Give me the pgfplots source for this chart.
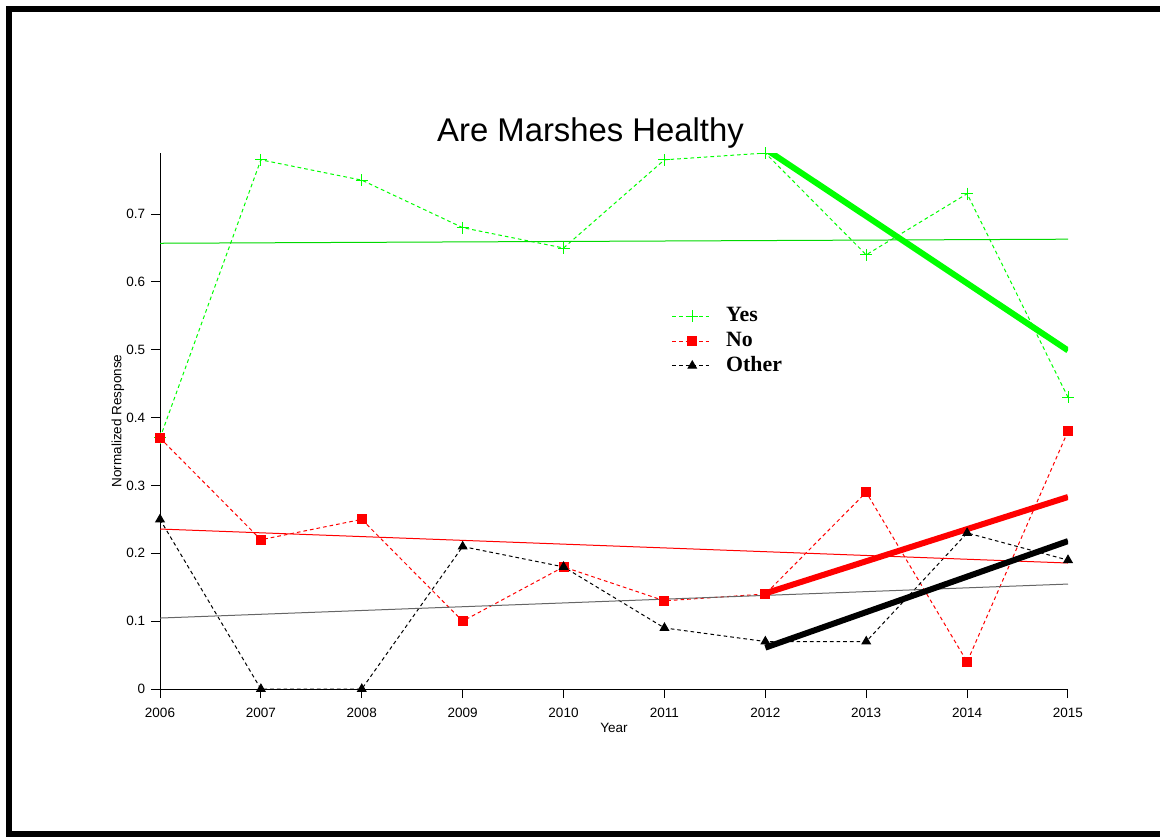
\documentclass[border=0pt]{standalone}
\usepackage{fontspec}
\setmainfont{Liberation Sans}
\newfontfamily\seriffont{Liberation Serif}
\usepackage{pgfplots}
\pgfplotsset{compat=1.18}
\definecolor{pgreen}{RGB}{0,255,0}
\definecolor{pred}{RGB}{255,0,0}
\begin{document}
\begin{tikzpicture}
\useasboundingbox (0,0) rectangle (696pt,-501.6pt);
\begin{scope}
\clip (0,0) rectangle (696pt,-501.6pt);
\draw[line width=3.6pt] (5.4pt,-5.4pt) rectangle (720pt,-500.1pt);
\end{scope}
\node[font=\fontsize{19.7}{23}\selectfont, inner sep=0pt] at (354.3pt,-80pt) {Are Marshes Healthy};
\begin{axis}[
  at={(96pt,-413.4pt)}, anchor=south west,
  scale only axis, width=544.8pt, height=321.6pt,
  xmin=2006, xmax=2015, ymin=0, ymax=0.79,
  axis lines=left, axis line style={-, line width=0.6pt},
  tick align=outside, major tick length=5.4pt,
  tick style={line width=0.6pt, black},
  xtick={2006,...,2015},
  ytick={0,0.1,0.2,0.3,0.4,0.5,0.6,0.7},
  /pgf/number format/assume math mode=true,
  /pgf/number format/1000 sep={},
  tick label style={font=\fontsize{8.1}{9.7}\selectfont},
  xticklabel style={yshift=-2.4pt},
  xlabel={Year}, ylabel={Normalized Response},
  label style={font=\fontsize{8.1}{9.7}\selectfont},
  xlabel style={at={(axis description cs:0.5,0)}, anchor=center, yshift=-23.4pt},
  ylabel style={at={(axis description cs:0,0.5)}, anchor=center, yshift=25.2pt},
  legend style={draw=none, fill=none, at={(axis description cs:0.5639,0.649)}, anchor=west, xshift=-3.3pt,
    font=\seriffont\bfseries\fontsize{13.1}{15}\selectfont,
    nodes={inner xsep=4.5pt, inner ysep=1pt, text height=9.6pt, text depth=3.2pt},
    row sep=0pt, column sep=3.6pt},
  legend cell align=left,
  legend image code/.code={\draw[mark repeat=2,mark phase=2,#1] plot coordinates {(0cm,0cm) (0.42cm,0cm) (0.84cm,0cm)};},
]
\addplot[pgreen, line width=0.6pt, dash pattern=on 2.2pt off 1.8pt, mark=+, mark size=3.6pt, mark options={solid}]
  coordinates {(2006,0.37)(2007,0.78)(2008,0.75)(2009,0.68)(2010,0.65)(2011,0.78)(2012,0.79)(2013,0.64)(2014,0.73)(2015,0.43)};
\addlegendentry{Yes}
\addplot[pred, line width=0.6pt, dash pattern=on 2.2pt off 1.8pt, mark=square*, mark size=2.7pt, mark options={solid}]
  coordinates {(2006,0.37)(2007,0.22)(2008,0.25)(2009,0.10)(2010,0.18)(2011,0.13)(2012,0.14)(2013,0.29)(2014,0.04)(2015,0.38)};
\addlegendentry{No}
\addplot[black, line width=0.6pt, dash pattern=on 2.2pt off 1.8pt, mark=triangle*, mark size=2.9pt, mark options={solid}]
  coordinates {(2006,0.25)(2007,0)(2008,0)(2009,0.21)(2010,0.18)(2011,0.09)(2012,0.07)(2013,0.07)(2014,0.23)(2015,0.19)};
\addlegendentry{Other}
% full-range trend lines
\addplot[pgreen!85!black, line width=0.6pt, forget plot] coordinates {(2006,0.657)(2015,0.663)};
\addplot[pred, line width=0.6pt, forget plot] coordinates {(2006,0.2358)(2015,0.1857)};
\addplot[black!60, line width=0.6pt, forget plot] coordinates {(2006,0.1046)(2015,0.1547)};
% recent trend lines
\addplot[pgreen, line width=3.6pt, forget plot] coordinates {(2012,0.796)(2015,0.499)};
\addplot[pred, line width=3.6pt, forget plot] coordinates {(2012,0.141)(2015,0.283)};
\addplot[black, line width=3.6pt, forget plot] coordinates {(2012,0.061)(2015,0.218)};
\end{axis}
\end{tikzpicture}
\end{document}
